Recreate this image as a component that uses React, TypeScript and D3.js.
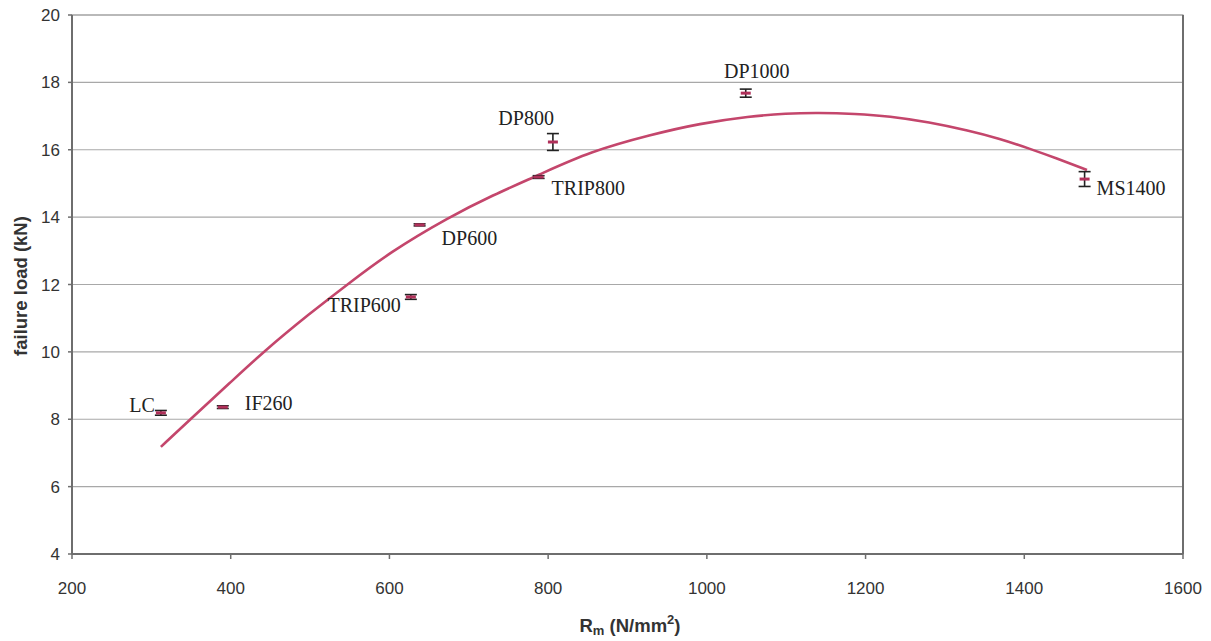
import React from "react";
import * as d3 from "d3";

// Steel grades: tensile strength Rm (N/mm²) vs. measured failure load (kN)
const grades = ["LC", "IF260", "TRIP600", "DP600", "TRIP800", "DP800", "DP1000", "MS1400"];
const rm = [312, 390, 627, 638, 788, 806, 1049, 1476];
const failureLoad = [8.19, 8.36, 11.63, 13.77, 15.19, 16.23, 17.68, 15.13];
const loadError = [0.07, 0.04, 0.07, 0.03, 0.04, 0.25, 0.12, 0.22];

// Trend curve through the data
const trendRm = [312, 349, 400, 441, 500, 547, 600, 675, 730, 788, 853, 930, 991, 1054, 1100, 1140, 1187, 1230, 1280, 1330, 1369, 1407, 1440, 1479];
const trendLoad = [7.18, 8.0, 9.1, 10.0, 11.15, 12.0, 12.95, 14.0, 14.65, 15.25, 15.95, 16.45, 16.78, 16.99, 17.08, 17.1, 17.07, 17.0, 16.82, 16.57, 16.33, 16.03, 15.75, 15.4];

const xTicks = [200, 400, 600, 800, 1000, 1200, 1400, 1600];
const yTicks = [4, 6, 8, 10, 12, 14, 16, 18, 20];

// label placement: text-anchor and offset from the marker
const labelPlacement: Record<string, { anchor: string; dx: number; dy: number }> = {
  LC: { anchor: "end", dx: -6, dy: -1 },
  IF260: { anchor: "start", dx: 22, dy: 3 },
  TRIP600: { anchor: "end", dx: -10, dy: 15 },
  DP600: { anchor: "start", dx: 22, dy: 20 },
  TRIP800: { anchor: "start", dx: 13, dy: 18 },
  DP800: { anchor: "end", dx: 1, dy: -17 },
  DP1000: { anchor: "middle", dx: 11, dy: -15 },
  MS1400: { anchor: "start", dx: 12, dy: 16 },
};

export default function App() {
  const W = 1211;
  const H = 641;
  const x = d3.scaleLinear().domain([200, 1600]).range([72, 1183]);
  const y = d3.scaleLinear().domain([4, 20]).range([554, 15]);

  const line = d3
    .line<number>()
    .x((_, i) => x(trendRm[i]))
    .y((d) => y(d))
    .curve(d3.curveBasis);

  const curveColor = "#c4466c";
  const gridColor = "#a8a8a8";
  const axisColor = "#6e6e6e";
  const tickText = "#333";
  const sans = "Liberation Sans, Arial, sans-serif";

  return (
    <svg
      width={W}
      height={H}
      style={{ position: "absolute", left: 0, top: 0, background: "#fff" }}
    >
      {/* horizontal gridlines */}
      {yTicks.map((t) => (
        <line key={"g" + t} x1={x(200)} x2={x(1600)} y1={y(t)} y2={y(t)} stroke={gridColor} strokeWidth={1.2} />
      ))}
      {/* plot frame */}
      <rect x={x(200)} y={y(20)} width={x(1600) - x(200)} height={y(4) - y(20)} fill="none" stroke={gridColor} strokeWidth={1.2} />
      <line x1={x(1600)} x2={x(1600)} y1={y(20)} y2={y(4)} stroke={axisColor} strokeWidth={2} />
      {/* axes */}
      <line x1={x(200)} x2={x(200)} y1={y(20)} y2={y(4)} stroke={axisColor} strokeWidth={2} />
      <line x1={x(200)} x2={x(1600)} y1={y(4)} y2={y(4)} stroke={axisColor} strokeWidth={2} />
      {yTicks.map((t) => (
        <g key={"yt" + t}>
          <line x1={x(200) - 4} x2={x(200)} y1={y(t)} y2={y(t)} stroke={axisColor} strokeWidth={1.5} />
          <text x={60} y={y(t) + 6} textAnchor="end" fontFamily={sans} fontSize={17} fill={tickText}>
            {t}
          </text>
        </g>
      ))}
      {xTicks.map((t) => (
        <g key={"xt" + t}>
          <line x1={x(t)} x2={x(t)} y1={y(4)} y2={y(4) + 5} stroke={axisColor} strokeWidth={1.5} />
          <text x={x(t)} y={594} textAnchor="middle" fontFamily={sans} fontSize={17} fill={tickText}>
            {t}
          </text>
        </g>
      ))}
      {/* axis titles */}
      <text x={630} y={632} textAnchor="middle" fontFamily={sans} fontSize={18.5} fontWeight="bold" fill="#333">
        R<tspan fontSize={13} dy={3}>m</tspan>
        <tspan dy={-3}> (N/mm</tspan>
        <tspan fontSize={13} dy={-8}>2</tspan>
        <tspan dy={8}>)</tspan>
      </text>
      <text
        transform={`translate(27,${286}) rotate(-90)`}
        textAnchor="middle"
        fontFamily={sans}
        fontSize={18.5}
        fontWeight="bold"
        fill="#333"
      >
        failure load (kN)
      </text>

      {/* trend curve */}
      <path d={line(trendLoad) ?? ""} fill="none" stroke={curveColor} strokeWidth={2.6} strokeLinejoin="round" />

      {/* measurements with error bars */}
      {grades.map((g, i) => {
        const cx = x(rm[i]);
        const cy = y(failureLoad[i]);
        const top = y(failureLoad[i] + loadError[i]);
        const bot = y(failureLoad[i] - loadError[i]);
        const p = labelPlacement[g];
        return (
          <g key={g}>
            <line x1={cx} x2={cx} y1={top} y2={bot} stroke="#222" strokeWidth={1.6} />
            <line x1={cx - 6} x2={cx + 6} y1={top} y2={top} stroke="#222" strokeWidth={1.6} />
            <line x1={cx - 6} x2={cx + 6} y1={bot} y2={bot} stroke="#222" strokeWidth={1.6} />
            <line x1={cx - 5} x2={cx + 5} y1={cy} y2={cy} stroke="#b0305a" strokeWidth={3} />
            <text
              x={cx + p.dx}
              y={cy + p.dy}
              textAnchor={p.anchor}
              fontFamily="Liberation Serif, Times New Roman, serif"
              fontSize={20}
              fill="#222"
            >
              {g}
            </text>
          </g>
        );
      })}
    </svg>
  );
}
